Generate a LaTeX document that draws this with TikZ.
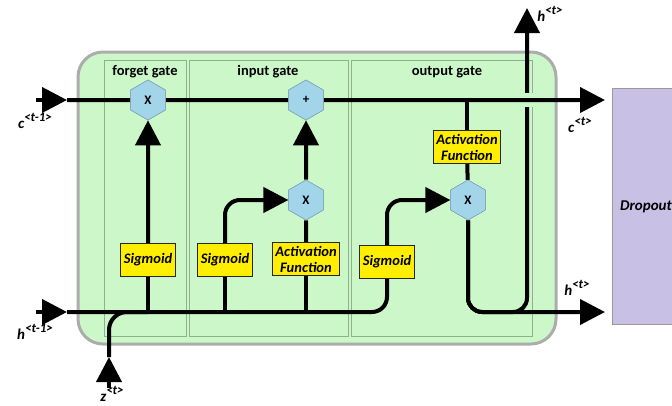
\documentclass[tikz,border=0pt]{standalone}
\usepackage{fontspec}
\setmainfont{Carlito}
\usetikzlibrary{arrows.meta, shapes.geometric, positioning}

\definecolor{cellgreen}{HTML}{CCF7C8}
\definecolor{panelline}{HTML}{8FB08C}
\definecolor{hexblue}{HTML}{A3D5EA}
\definecolor{funcyellow}{HTML}{FFEE00}
\definecolor{droplila}{HTML}{C9C0E6}

% Variable mit hochgestelltem Zeitindex
\newcommand{\supvar}[2]{#1\raisebox{0.5em}{\fontsize{13}{14}\selectfont #2}}

\tikzset{
  wire/.style={line width=4pt, black},
  flow/.style={wire, -{Triangle[length=25pt,width=25pt]}},
  panel/.style={draw=panelline, line width=0.7pt},
  gatename/.style={font=\fontsize{14.5}{16}\selectfont\bfseries},
  hexa/.style={regular polygon, regular polygon sides=6, shape border rotate=30,
    minimum size=40pt, inner sep=0pt, fill=hexblue, draw=hexblue!75!black,
    line width=0.5pt, font=\fontsize{13}{15}\selectfont\bfseries},
  func/.style={draw=black!85, line width=1pt, fill=funcyellow, inner sep=3pt,
    minimum height=33pt, align=center, font=\fontsize{14.5}{16}\selectfont\bfseries\itshape},
  varname/.style={inner sep=1pt, font=\fontsize{15}{17}\selectfont\bfseries\itshape},
}

\begin{document}
\begin{tikzpicture}

\useasboundingbox (0pt,0pt) rectangle (672pt,-405pt);

%% Zelle %%%%%%%%%%%%%%%%%%%%%%%%%%%%%%%%%%%%%%%%%
\draw[rounded corners=25pt, fill=cellgreen, draw=gray!65, line width=3pt]
  (78pt,-52pt) rectangle (556pt,-344pt);

\draw[panel] (104pt,-60pt) rectangle (186pt,-336pt);
\draw[panel] (189pt,-60pt) rectangle (348pt,-336pt);
\draw[panel] (351pt,-60pt) rectangle (532pt,-336pt);

%% Labels
\node[gatename] (forgetname) at (145pt,-72pt) {forget gate};
\node[gatename] (inputname) at (268pt,-72pt) {input gate};
\node[gatename] (outputname) at (447pt,-72pt) {output gate};

%% Dropout %%%%%%%%%%%%%%%%%%%%%%%%%%%%%%%%%%%%%%%
\draw[fill=droplila, draw=gray!80, line width=0.8pt] (612pt,-88pt) rectangle (690pt,-324pt);
\node[varname, anchor=west] (dropout) at (619pt,-207pt) {Dropout};

%% Ein- und Ausgaenge
\coordinate (cin) at (36pt,-100pt);
\coordinate (cintip) at (67pt,-100pt);
\coordinate (cout) at (605pt,-100pt);
\coordinate (hin) at (36pt,-312pt);
\coordinate (hintip) at (67pt,-312pt);
\coordinate (hout) at (605pt,-312pt);
\coordinate (htop) at (527pt,-8pt);
\coordinate (zin) at (109pt,-388pt);
\coordinate (ztip) at (109pt,-357pt);

%% Operationen
\node[hexa] (fx) at (148pt,-100pt) {X};
\node[hexa] (px) at (306pt,-100pt) {+};
\node[hexa] (ix) at (306pt,-200pt) {X};
\node[hexa] (ox) at (468pt,-200pt) {X};

\node[func] (fs) at (148pt,-260pt) {Sigmoid};
\node[func] (is) at (225pt,-260pt) {Sigmoid};
\node[func] (ia) at (306pt,-259pt) {Activation\\Function};
\node[func] (os) at (387pt,-262pt) {Sigmoid};
\node[func] (oa) at (467pt,-147pt) {Activation\\Function};

%% Ausgang h nach oben (mit Luecke am c-Strang)
\draw[flow, rounded corners=14pt] (ox.south) |- (htop |- hout) -- (htop);
\fill[cellgreen] (520pt,-93pt) rectangle (534pt,-107pt);

%% c-Strang
\draw[flow] (cin) -- (cintip);
\draw[wire] (cintip) -- (fx);
\draw[wire] (fx) -- (px);
\draw[flow] (px) -- (cout);

%% h-Strang
\draw[flow] (hin) -- (hintip);
\draw[wire, rounded corners=15pt] (hintip) -- (os |- hintip) -- (os.south);
\draw[flow] (zin) -- (ztip);
\draw[wire, rounded corners=18pt] (ztip) |- (fs |- hintip);

%% forget gate
\draw[wire] (fs |- hintip) -- (fs.south);
\draw[flow] (fs) -- (fx);

%% input gate
\draw[wire] (is |- hintip) -- (is.south);
\draw[flow, rounded corners=15pt] (is.north) |- (ix.west);
\draw[wire] (ia |- hintip) -- (ia.south);
\draw[wire] (ia) -- (ix);
\draw[flow] (ix) -- (px);

%% output gate
\draw[flow, rounded corners=15pt] (os.north) |- (ox.west);
\draw[wire] (oa.north |- px) -- (oa.north);
\draw[wire] (oa) -- (ox);
\draw[flow, rounded corners=14pt] (ox.south) |- (hout);

%% Knoten nochmal oben drauf
\node[hexa] at (fx) {X};
\node[hexa] at (px) {+};
\node[hexa] at (ix) {X};
\node[hexa] at (ox) {X};

%% Labels
\node[varname] (cinname) at (35pt,-121pt) {\supvar{c}{<t-1>}};
\node[varname] (hinname) at (35pt,-332pt) {\supvar{h}{<t-1>}};
\node[varname] (zinname) at (112pt,-394pt) {\supvar{z}{<t>}};
\node[varname] (coutname) at (580pt,-125pt) {\supvar{c}{<t>}};
\node[varname] (houtname) at (577pt,-288pt) {\supvar{h}{<t>}};
\node[varname] (htopname) at (550pt,-14pt) {\supvar{h}{<t>}};

\end{tikzpicture}
\end{document}
